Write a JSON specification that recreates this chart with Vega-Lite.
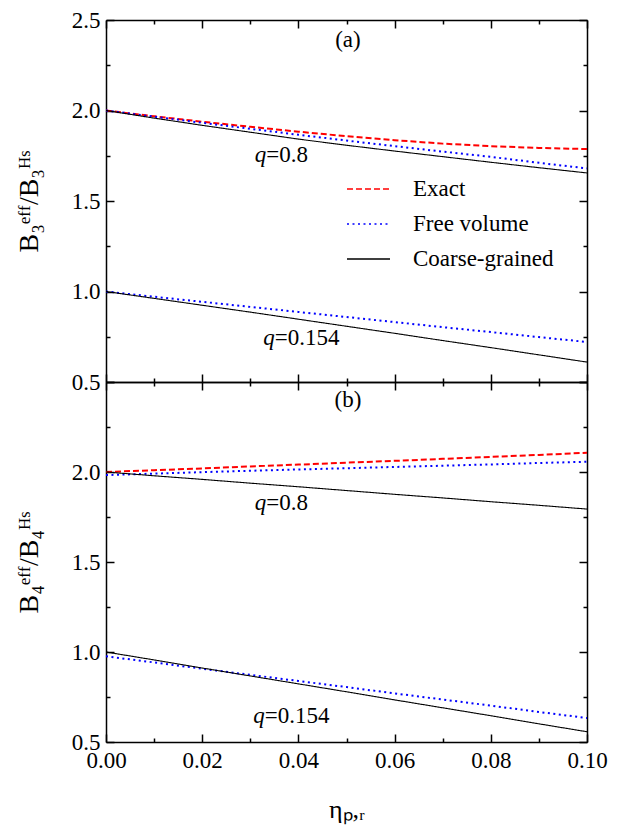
{
  "$schema": "https://vega.github.io/schema/vega-lite/v6.json",
  "padding": {"left": 15, "top": 9, "right": 5, "bottom": 5},
  "background": "white",
  "config": {"view": {"stroke": null}},
  "bounds": "flush",
  "spacing": 0,
  "resolve": {"legend": {"color": "independent", "strokeDash": "independent"}},
  "vconcat": [
    {
      "width": 481, "height": 362,
      "resolve": {"axis": {"x": "independent", "y": "independent"}},
      "layer": [
        {
          "data": {"values": [
            {"q":"0.8","series":"Exact","eta":0,"val":2.0},{"q":"0.8","series":"Exact","eta":0.01,"val":1.968},{"q":"0.8","series":"Exact","eta":0.02,"val":1.938},{"q":"0.8","series":"Exact","eta":0.03,"val":1.91},{"q":"0.8","series":"Exact","eta":0.04,"val":1.883},{"q":"0.8","series":"Exact","eta":0.05,"val":1.858},{"q":"0.8","series":"Exact","eta":0.06,"val":1.836},{"q":"0.8","series":"Exact","eta":0.07,"val":1.817},{"q":"0.8","series":"Exact","eta":0.08,"val":1.803},{"q":"0.8","series":"Exact","eta":0.09,"val":1.793},{"q":"0.8","series":"Exact","eta":0.1,"val":1.787},
            {"q":"0.8","series":"Free volume","eta":0,"val":2.0},{"q":"0.8","series":"Free volume","eta":0.01,"val":1.966},{"q":"0.8","series":"Free volume","eta":0.02,"val":1.932},{"q":"0.8","series":"Free volume","eta":0.03,"val":1.899},{"q":"0.8","series":"Free volume","eta":0.04,"val":1.866},{"q":"0.8","series":"Free volume","eta":0.05,"val":1.834},{"q":"0.8","series":"Free volume","eta":0.06,"val":1.803},{"q":"0.8","series":"Free volume","eta":0.07,"val":1.773},{"q":"0.8","series":"Free volume","eta":0.08,"val":1.744},{"q":"0.8","series":"Free volume","eta":0.09,"val":1.711},{"q":"0.8","series":"Free volume","eta":0.1,"val":1.68},
            {"q":"0.8","series":"Coarse-grained","eta":0,"val":2.0},{"q":"0.8","series":"Coarse-grained","eta":0.01,"val":1.958},{"q":"0.8","series":"Coarse-grained","eta":0.02,"val":1.918},{"q":"0.8","series":"Coarse-grained","eta":0.03,"val":1.88},{"q":"0.8","series":"Coarse-grained","eta":0.04,"val":1.842},{"q":"0.8","series":"Coarse-grained","eta":0.05,"val":1.808},{"q":"0.8","series":"Coarse-grained","eta":0.06,"val":1.776},{"q":"0.8","series":"Coarse-grained","eta":0.07,"val":1.745},{"q":"0.8","series":"Coarse-grained","eta":0.08,"val":1.714},{"q":"0.8","series":"Coarse-grained","eta":0.09,"val":1.684},{"q":"0.8","series":"Coarse-grained","eta":0.1,"val":1.655},
            {"q":"0.154","series":"Free volume","eta":0,"val":1.0},{"q":"0.154","series":"Free volume","eta":0.01,"val":0.971},{"q":"0.154","series":"Free volume","eta":0.02,"val":0.943},{"q":"0.154","series":"Free volume","eta":0.03,"val":0.915},{"q":"0.154","series":"Free volume","eta":0.04,"val":0.887},{"q":"0.154","series":"Free volume","eta":0.05,"val":0.859},{"q":"0.154","series":"Free volume","eta":0.06,"val":0.831},{"q":"0.154","series":"Free volume","eta":0.07,"val":0.803},{"q":"0.154","series":"Free volume","eta":0.08,"val":0.776},{"q":"0.154","series":"Free volume","eta":0.09,"val":0.748},{"q":"0.154","series":"Free volume","eta":0.1,"val":0.721},
            {"q":"0.154","series":"Coarse-grained","eta":0,"val":1.0},{"q":"0.154","series":"Coarse-grained","eta":0.01,"val":0.962},{"q":"0.154","series":"Coarse-grained","eta":0.02,"val":0.924},{"q":"0.154","series":"Coarse-grained","eta":0.03,"val":0.886},{"q":"0.154","series":"Coarse-grained","eta":0.04,"val":0.847},{"q":"0.154","series":"Coarse-grained","eta":0.05,"val":0.808},{"q":"0.154","series":"Coarse-grained","eta":0.06,"val":0.769},{"q":"0.154","series":"Coarse-grained","eta":0.07,"val":0.729},{"q":"0.154","series":"Coarse-grained","eta":0.08,"val":0.69},{"q":"0.154","series":"Coarse-grained","eta":0.09,"val":0.65},{"q":"0.154","series":"Coarse-grained","eta":0.1,"val":0.61}
          ]},
          "mark": {"type": "line"},
          "encoding": {
            "x": {"field": "eta", "type": "quantitative", "scale": {"domain": [0, 0.1], "nice": false, "zero": false},
              "axis": {"orient": "bottom", "values": [0,0.02,0.04,0.06,0.08,0.1], "labels": false, "ticks": false, "title": null, "grid": false,
                "domainColor": "black", "domainWidth": 1.5}},
            "y": {"field": "val", "type": "quantitative", "scale": {"domain": [0.5, 2.5], "nice": false, "zero": false},
              "axis": {"orient": "left", "values": [0.5,1,1.5,2,2.5], "format": ".1f", "ticks": false, "labelPadding": 6, "grid": false,
                "labelFont": "Liberation Serif", "labelFontSize": 23, "labelColor": "black", "labelFlush": false,
                "domainColor": "black", "domainWidth": 1.5,
                "title": "B\u2083\u1d49\u1da0\u1da0/B\u2083\u1d34\u02e2", "titlePadding": 28, "titleFont": "Liberation Serif", "titleFontSize": 28, "titleFontWeight": "normal", "titleColor": "black"}},
            "detail": {"field": "q"},
            "color": {"field": "series", "type": "nominal",
              "scale": {"domain": ["Exact", "Free volume", "Coarse-grained"], "range": ["#ff0000", "#0000ff", "#000000"]},
              "legend": {"orient": "none", "legendX": 240, "legendY": 146.5, "title": null, "symbolType": "stroke", "symbolSize": 1849, "labelOffset": 22, "rowPadding": 0, "labelFont": "Liberation Serif", "labelFontSize": 23, "labelColor": "black"}},
            "strokeDash": {"field": "series", "type": "nominal",
              "scale": {"domain": ["Exact", "Free volume", "Coarse-grained"], "range": [[6, 3], [2, 3.5], [1, 0]]},
              "legend": {"orient": "none", "legendX": 240, "legendY": 146.5, "title": null, "symbolType": "stroke", "symbolSize": 1849, "labelOffset": 22, "rowPadding": 0, "labelFont": "Liberation Serif", "labelFontSize": 23, "labelColor": "black"}},
            "strokeWidth": {"condition": {"test": "datum.series == 'Coarse-grained'", "value": 1.1}, "value": 2}
          }
        },
        {
          "data": {"values": [{"eta":0.0333,"val":1.754,"pre":"q","post":"=0.8"},{"eta":0.0351,"val":0.745,"pre":"q","post":"=0.154"}]},
          "mark": {"type": "text", "align": "right", "baseline": "middle", "fontStyle": "italic", "fontSize": 23, "font": "Liberation Serif", "color": "black"},
          "encoding": {
            "x": {"field": "eta", "type": "quantitative",
              "axis": {"orient": "top", "offset": -362, "values": [0,0.02,0.04,0.06,0.08,0.1], "labels": false, "title": null, "grid": false, "domain": false,
                "tickSize": 8, "tickColor": "black", "tickWidth": 1.5}},
            "y": {"field": "val", "type": "quantitative",
              "axis": {"orient": "right", "offset": -481, "values": [0.5,1,1.5,2,2.5], "labels": false, "title": null, "grid": false, "domain": false,
                "tickSize": 8, "tickColor": "black", "tickWidth": 1.5}},
            "text": {"field": "pre"}
          }
        },
        {
          "data": {"values": [{"eta":0.0333,"val":1.754,"pre":"q","post":"=0.8"},{"eta":0.0351,"val":0.745,"pre":"q","post":"=0.154"}]},
          "mark": {"type": "text", "align": "left", "baseline": "middle", "fontSize": 23, "font": "Liberation Serif", "color": "black"},
          "encoding": {
            "x": {"field": "eta", "type": "quantitative",
              "axis": {"orient": "top", "offset": -362, "values": [0.01,0.03,0.05,0.07,0.09], "labels": false, "title": null, "grid": false, "domain": false,
                "tickSize": 4, "tickColor": "black", "tickWidth": 1.5}},
            "y": {"field": "val", "type": "quantitative",
              "axis": {"orient": "right", "offset": -481, "values": [0.75,1.25,1.75,2.25], "labels": false, "title": null, "grid": false, "domain": false,
                "tickSize": 4, "tickColor": "black", "tickWidth": 1.5}},
            "text": {"field": "post"}
          }
        },
        {
          "data": {"values": [{"eta":0.0503,"val":2.39,"tag":"(a)"}]},
          "mark": {"type": "text", "align": "center", "baseline": "middle", "fontSize": 23, "font": "Liberation Serif", "color": "black"},
          "encoding": {
            "x": {"field": "eta", "type": "quantitative",
              "axis": {"orient": "bottom", "offset": -362, "values": [0,0.02,0.04,0.06,0.08,0.1], "labels": false, "title": null, "grid": false,
                "domainColor": "black", "domainWidth": 1.5, "tickSize": 8, "tickColor": "black", "tickWidth": 1.5}},
            "y": {"field": "val", "type": "quantitative",
              "axis": {"orient": "left", "offset": -481, "values": [0.5,1,1.5,2,2.5], "labels": false, "title": null, "grid": false,
                "domainColor": "black", "domainWidth": 1.5, "tickSize": 8, "tickColor": "black", "tickWidth": 1.5}},
            "text": {"field": "tag"}
          }
        },
        {
          "data": {"values": [{"eta":0.0503,"val":2.39,"tag":"(a)"}]},
          "mark": {"type": "point", "opacity": 0},
          "encoding": {
            "x": {"field": "eta", "type": "quantitative",
              "axis": {"orient": "bottom", "offset": -362, "values": [0.01,0.03,0.05,0.07,0.09], "labels": false, "title": null, "grid": false, "domain": false,
                "tickSize": 4, "tickColor": "black", "tickWidth": 1.5}},
            "y": {"field": "val", "type": "quantitative",
              "axis": {"orient": "left", "offset": -481, "values": [0.75,1.25,1.75,2.25], "labels": false, "title": null, "grid": false, "domain": false,
                "tickSize": 4, "tickColor": "black", "tickWidth": 1.5}}
          }
        }
      ]
    },
    {
      "width": 481, "height": 360,
      "resolve": {"axis": {"x": "independent", "y": "independent"}},
      "layer": [
        {
          "data": {"values": [
            {"q":"0.8","series":"Exact","eta":0,"val":2.0},{"q":"0.8","series":"Exact","eta":0.01,"val":2.01},{"q":"0.8","series":"Exact","eta":0.02,"val":2.02},{"q":"0.8","series":"Exact","eta":0.03,"val":2.031},{"q":"0.8","series":"Exact","eta":0.04,"val":2.041},{"q":"0.8","series":"Exact","eta":0.05,"val":2.052},{"q":"0.8","series":"Exact","eta":0.06,"val":2.062},{"q":"0.8","series":"Exact","eta":0.07,"val":2.073},{"q":"0.8","series":"Exact","eta":0.08,"val":2.084},{"q":"0.8","series":"Exact","eta":0.09,"val":2.095},{"q":"0.8","series":"Exact","eta":0.1,"val":2.107},
            {"q":"0.8","series":"Free volume","eta":0,"val":1.983},{"q":"0.8","series":"Free volume","eta":0.01,"val":1.991},{"q":"0.8","series":"Free volume","eta":0.02,"val":1.999},{"q":"0.8","series":"Free volume","eta":0.03,"val":2.007},{"q":"0.8","series":"Free volume","eta":0.04,"val":2.014},{"q":"0.8","series":"Free volume","eta":0.05,"val":2.021},{"q":"0.8","series":"Free volume","eta":0.06,"val":2.028},{"q":"0.8","series":"Free volume","eta":0.07,"val":2.035},{"q":"0.8","series":"Free volume","eta":0.08,"val":2.042},{"q":"0.8","series":"Free volume","eta":0.09,"val":2.05},{"q":"0.8","series":"Free volume","eta":0.1,"val":2.057},
            {"q":"0.8","series":"Coarse-grained","eta":0,"val":2.0},{"q":"0.8","series":"Coarse-grained","eta":0.01,"val":1.979},{"q":"0.8","series":"Coarse-grained","eta":0.02,"val":1.959},{"q":"0.8","series":"Coarse-grained","eta":0.03,"val":1.938},{"q":"0.8","series":"Coarse-grained","eta":0.04,"val":1.918},{"q":"0.8","series":"Coarse-grained","eta":0.05,"val":1.897},{"q":"0.8","series":"Coarse-grained","eta":0.06,"val":1.876},{"q":"0.8","series":"Coarse-grained","eta":0.07,"val":1.856},{"q":"0.8","series":"Coarse-grained","eta":0.08,"val":1.835},{"q":"0.8","series":"Coarse-grained","eta":0.09,"val":1.815},{"q":"0.8","series":"Coarse-grained","eta":0.1,"val":1.794},
            {"q":"0.154","series":"Free volume","eta":0,"val":0.976},{"q":"0.154","series":"Free volume","eta":0.01,"val":0.942},{"q":"0.154","series":"Free volume","eta":0.02,"val":0.907},{"q":"0.154","series":"Free volume","eta":0.03,"val":0.873},{"q":"0.154","series":"Free volume","eta":0.04,"val":0.839},{"q":"0.154","series":"Free volume","eta":0.05,"val":0.805},{"q":"0.154","series":"Free volume","eta":0.06,"val":0.77},{"q":"0.154","series":"Free volume","eta":0.07,"val":0.736},{"q":"0.154","series":"Free volume","eta":0.08,"val":0.702},{"q":"0.154","series":"Free volume","eta":0.09,"val":0.667},{"q":"0.154","series":"Free volume","eta":0.1,"val":0.633},
            {"q":"0.154","series":"Coarse-grained","eta":0,"val":1.0},{"q":"0.154","series":"Coarse-grained","eta":0.01,"val":0.956},{"q":"0.154","series":"Coarse-grained","eta":0.02,"val":0.911},{"q":"0.154","series":"Coarse-grained","eta":0.03,"val":0.867},{"q":"0.154","series":"Coarse-grained","eta":0.04,"val":0.823},{"q":"0.154","series":"Coarse-grained","eta":0.05,"val":0.779},{"q":"0.154","series":"Coarse-grained","eta":0.06,"val":0.734},{"q":"0.154","series":"Coarse-grained","eta":0.07,"val":0.69},{"q":"0.154","series":"Coarse-grained","eta":0.08,"val":0.646},{"q":"0.154","series":"Coarse-grained","eta":0.09,"val":0.601},{"q":"0.154","series":"Coarse-grained","eta":0.1,"val":0.557}
          ]},
          "mark": {"type": "line"},
          "encoding": {
            "x": {"field": "eta", "type": "quantitative", "scale": {"domain": [0, 0.1], "nice": false, "zero": false},
              "axis": {"orient": "bottom", "values": [0,0.02,0.04,0.06,0.08,0.1], "format": ".2f", "ticks": false, "labelPadding": 7, "grid": false,
                "labelFont": "Liberation Serif", "labelFontSize": 23, "labelColor": "black", "labelFlush": false,
                "domainColor": "black", "domainWidth": 1.5,
                "title": "\u03b7\u209a,\u1d63", "titlePadding": 24, "titleFont": "Liberation Serif", "titleFontSize": 26, "titleFontWeight": "normal", "titleColor": "black"}},
            "y": {"field": "val", "type": "quantitative", "scale": {"domain": [0.5, 2.5], "nice": false, "zero": false},
              "axis": {"orient": "left", "values": [0.5,1,1.5,2,2.5], "labelExpr": "datum.value > 2.4 ? '' : format(datum.value, '.1f')", "ticks": false, "labelPadding": 6, "grid": false,
                "labelFont": "Liberation Serif", "labelFontSize": 23, "labelColor": "black", "labelFlush": false,
                "domainColor": "black", "domainWidth": 1.5,
                "title": "B\u2084\u1d49\u1da0\u1da0/B\u2084\u1d34\u02e2", "titlePadding": 28, "titleFont": "Liberation Serif", "titleFontSize": 28, "titleFontWeight": "normal", "titleColor": "black"}},
            "detail": {"field": "q"},
            "color": {"field": "series", "type": "nominal",
              "scale": {"domain": ["Exact", "Free volume", "Coarse-grained"], "range": ["#ff0000", "#0000ff", "#000000"]}, "legend": null},
            "strokeDash": {"field": "series", "type": "nominal",
              "scale": {"domain": ["Exact", "Free volume", "Coarse-grained"], "range": [[6, 3], [2, 3.5], [1, 0]]}, "legend": null},
            "strokeWidth": {"condition": {"test": "datum.series == 'Coarse-grained'", "value": 1.1}, "value": 2}
          }
        },
        {
          "data": {"values": [{"eta":0.0333,"val":1.828,"pre":"q","post":"=0.8"},{"eta":0.033,"val":0.644,"pre":"q","post":"=0.154"}]},
          "mark": {"type": "text", "align": "right", "baseline": "middle", "fontStyle": "italic", "fontSize": 23, "font": "Liberation Serif", "color": "black"},
          "encoding": {
            "x": {"field": "eta", "type": "quantitative",
              "axis": {"orient": "top", "offset": -360, "values": [0,0.02,0.04,0.06,0.08,0.1], "labels": false, "title": null, "grid": false, "domain": false,
                "tickSize": 8, "tickColor": "black", "tickWidth": 1.5}},
            "y": {"field": "val", "type": "quantitative",
              "axis": {"orient": "right", "offset": -481, "values": [0.5,1,1.5,2,2.5], "labels": false, "title": null, "grid": false, "domain": false,
                "tickSize": 8, "tickColor": "black", "tickWidth": 1.5}},
            "text": {"field": "pre"}
          }
        },
        {
          "data": {"values": [{"eta":0.0333,"val":1.828,"pre":"q","post":"=0.8"},{"eta":0.033,"val":0.644,"pre":"q","post":"=0.154"}]},
          "mark": {"type": "text", "align": "left", "baseline": "middle", "fontSize": 23, "font": "Liberation Serif", "color": "black"},
          "encoding": {
            "x": {"field": "eta", "type": "quantitative",
              "axis": {"orient": "top", "offset": -360, "values": [0.01,0.03,0.05,0.07,0.09], "labels": false, "title": null, "grid": false, "domain": false,
                "tickSize": 4, "tickColor": "black", "tickWidth": 1.5}},
            "y": {"field": "val", "type": "quantitative",
              "axis": {"orient": "right", "offset": -481, "values": [0.75,1.25,1.75,2.25], "labels": false, "title": null, "grid": false, "domain": false,
                "tickSize": 4, "tickColor": "black", "tickWidth": 1.5}},
            "text": {"field": "post"}
          }
        },
        {
          "data": {"values": [{"eta":0.0503,"val":2.40,"tag":"(b)"}]},
          "mark": {"type": "text", "align": "center", "baseline": "middle", "fontSize": 23, "font": "Liberation Serif", "color": "black"},
          "encoding": {
            "x": {"field": "eta", "type": "quantitative",
              "axis": {"orient": "bottom", "offset": -360, "values": [0,0.02,0.04,0.06,0.08,0.1], "labels": false, "title": null, "grid": false,
                "domainColor": "black", "domainWidth": 1.5, "tickSize": 8, "tickColor": "black", "tickWidth": 1.5}},
            "y": {"field": "val", "type": "quantitative",
              "axis": {"orient": "left", "offset": -481, "values": [0.5,1,1.5,2,2.5], "labels": false, "title": null, "grid": false,
                "domainColor": "black", "domainWidth": 1.5, "tickSize": 8, "tickColor": "black", "tickWidth": 1.5}},
            "text": {"field": "tag"}
          }
        },
        {
          "data": {"values": [{"eta":0.0503,"val":2.40,"tag":"(b)"}]},
          "mark": {"type": "point", "opacity": 0},
          "encoding": {
            "x": {"field": "eta", "type": "quantitative",
              "axis": {"orient": "bottom", "offset": -360, "values": [0.01,0.03,0.05,0.07,0.09], "labels": false, "title": null, "grid": false, "domain": false,
                "tickSize": 4, "tickColor": "black", "tickWidth": 1.5}},
            "y": {"field": "val", "type": "quantitative",
              "axis": {"orient": "left", "offset": -481, "values": [0.75,1.25,1.75,2.25], "labels": false, "title": null, "grid": false, "domain": false,
                "tickSize": 4, "tickColor": "black", "tickWidth": 1.5}}
          }
        }
      ]
    }
  ]
}
